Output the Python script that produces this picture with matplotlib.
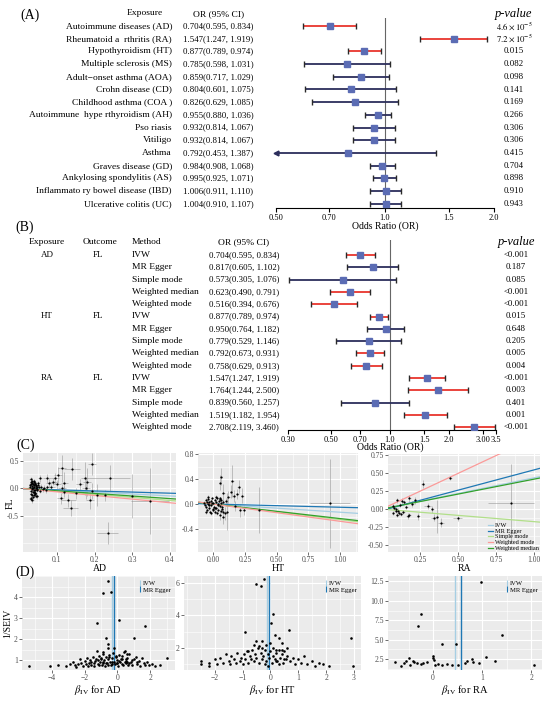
import numpy as np
import matplotlib.pyplot as plt
from matplotlib.lines import Line2D
from matplotlib.ticker import AutoMinorLocator, NullLocator, FixedLocator

plt.rcParams["font.family"] = ["Liberation Serif", "DejaVu Serif"]
plt.rcParams["mathtext.fontset"] = "stix"

# ---------------- panel A ----------------
a_names = ["Autoimmune diseases (AD)", "Rheumatoid a  rthritis (RA)", "Hypothyroidism (HT)",
           "Multiple sclerosis (MS)", "Adult\u2212onset asthma (AOA)", "Crohn disease (CD)",
           "Childhood asthma (COA )", "Autoimmune  hype rthyroidism (AH)", "Pso riasis",
           "Vitiligo", "Asthma", "Graves disease (GD)", "Ankylosing spondylitis (AS)",
           "Inflammato ry bowel disease (IBD)", "Ulcerative colitis (UC)"]
a_or = [0.704, 1.547, 0.877, 0.785, 0.859, 0.804, 0.826, 0.955, 0.932, 0.932, 0.792, 0.984, 0.995, 1.006, 1.004]
a_lo = [0.595, 1.247, 0.789, 0.598, 0.717, 0.601, 0.629, 0.880, 0.814, 0.814, 0.453, 0.908, 0.925, 0.911, 0.910]
a_hi = [0.834, 1.919, 0.974, 1.031, 1.029, 1.075, 1.085, 1.036, 1.067, 1.067, 1.387, 1.068, 1.071, 1.110, 1.107]
a_pnum = [4.6e-5, 7.2e-5, 0.015, 0.082, 0.098, 0.141, 0.169, 0.266, 0.306, 0.306, 0.415, 0.704, 0.898, 0.910, 0.943]
a_ptxt = [r"$4.6\times10^{-5}$", r"$7.2\times10^{-5}$", "0.015", "0.082", "0.098", "0.141", "0.169",
          "0.266", "0.306", "0.306", "0.415", "0.704", "0.898", "0.910", "0.943"]
a_ticks = [0.5, 0.7, 1.0, 1.5, 2.0]
a_ticklabels = ["0.50", "0.70", "1.0", "1.5", "2.0"]

# ---------------- panel B ----------------
b_exposures = ["AD", "HT", "RA"]
b_methods = ["IVW", "MR Egger", "Simple mode", "Weighted median", "Weighted mode"]
b_or = [0.704, 0.817, 0.573, 0.623, 0.516, 0.877, 0.950, 0.779, 0.792, 0.758, 1.547, 1.764, 0.839, 1.519, 2.708]
b_lo = [0.595, 0.605, 0.305, 0.490, 0.394, 0.789, 0.764, 0.529, 0.673, 0.629, 1.247, 1.244, 0.560, 1.182, 2.119]
b_hi = [0.834, 1.102, 1.076, 0.791, 0.676, 0.974, 1.182, 1.146, 0.931, 0.913, 1.919, 2.500, 1.257, 1.954, 3.460]
b_ptxt = ["<0.001", "0.187", "0.085", "<0.001", "<0.001", "0.015", "0.648", "0.205", "0.005", "0.004",
          "<0.001", "0.003", "0.401", "0.001", "<0.001"]
b_ticks = [0.3, 0.5, 0.7, 1.0, 1.5, 2.0, 3.0, 3.5]
b_ticklabels = ["0.30", "0.50", "0.70", "1.0", "1.5", "2.0", "3.00", "3.5"]

# ---------------- panel C (SNP effects) ----------------
c1_bx = [0.028, 0.030, 0.031, 0.032, 0.033, 0.034, 0.035, 0.036, 0.037, 0.038, 0.039, 0.040, 0.041, 0.042,
         0.043, 0.044, 0.045, 0.046, 0.047, 0.048, 0.030, 0.032, 0.034, 0.036, 0.038, 0.040, 0.042, 0.044,
         0.046, 0.050, 0.029, 0.031, 0.033, 0.035, 0.037, 0.039, 0.041, 0.043, 0.052, 0.055, 0.058, 0.062,
         0.066, 0.070, 0.074, 0.030, 0.034, 0.038, 0.045, 0.050,
         0.24, 0.30, 0.347, 0.235, 0.193, 0.14, 0.113, 0.206, 0.137, 0.13, 0.11, 0.103, 0.095, 0.175, 0.18,
         0.177, 0.188, 0.15, 0.08, 0.074, 0.055, 0.12, 0.16, 0.193, 0.227, 0.113, 0.10, 0.09, 0.085, 0.12]
c1_by = [0.02, -0.05, 0.08, -0.10, 0.04, -0.02, 0.10, -0.07, 0.01, 0.06, -0.12, 0.03, -0.04, 0.09,
         -0.08, 0.00, 0.05, -0.15, 0.02, -0.03, -0.18, 0.12, -0.13, 0.07, -0.06, 0.11, -0.09, 0.04,
         -0.01, 0.06, 0.05, -0.20, 0.00, 0.14, -0.16, -0.03, 0.08, -0.11, 0.02, -0.05, 0.03, -0.02,
         0.01, -0.04, 0.02, 0.16, -0.22, 0.13, -0.14, 0.09,
         0.18, -0.15, -0.24, -0.82, 0.44, 0.35, 0.36, -0.13, -0.36, -0.22, -0.18, 0.24, 0.18, 0.18, 0.11,
         0.00, -0.22, -0.09, 0.09, 0.18, 0.18, 0.09, 0.07, -0.05, -0.13, 0.00, 0.07, 0.12, 0.02, -0.06]
c1_sx = [0.004] * 50 + [0.055, 0.01, 0.05, 0.028, 0.01, 0.02, 0.01, 0.01, 0.02, 0.02, 0.01, 0.01, 0.01, 0.01,
                        0.01, 0.01, 0.01, 0.01, 0.01, 0.01, 0.005, 0.01, 0.01, 0.01, 0.01, 0.01, 0.01, 0.01,
                        0.01, 0.01]
c1_sy = [0.04] * 50 + [0.25, 0.40, 0.60, 0.20, 0.20, 0.20, 0.25, 0.20, 0.15, 0.12, 0.10, 0.15, 0.10, 0.30,
                       0.25, 0.20, 0.15, 0.10, 0.08, 0.08, 0.06, 0.20, 0.10, 0.15, 0.10, 0.08, 0.08, 0.06,
                       0.06, 0.10]

c2_bx = [-0.07, -0.06, -0.055, -0.05, -0.045, -0.04, -0.035, -0.03, -0.025, -0.02, -0.015, -0.01, -0.005,
         0.0, 0.005, 0.01, 0.015, 0.02, 0.025, 0.03, 0.035, 0.04, 0.045, 0.05, 0.055, 0.06, 0.065, 0.07,
         -0.06, -0.04, -0.02, 0.0, 0.02, 0.04, 0.06, -0.05, -0.03, -0.01, 0.01, 0.03, 0.05, 0.07, 0.075,
         -0.065, 0.08,
         0.06, 0.055, 0.08, 0.15, 0.12, 0.16, 0.19, 0.23, 0.17, 0.21, 0.095, 0.055, 0.08, 0.11, 0.24, 0.36,
         0.92, 0.14, 0.10, 0.20]
c2_by = [0.02, -0.05, 0.06, -0.1, 0.0, 0.08, -0.07, 0.03, -0.12, 0.05, -0.02, 0.09, -0.08, 0.01, -0.04,
         0.07, -0.13, 0.03, -0.06, 0.1, -0.01, -0.09, 0.05, -0.03, 0.08, -0.11, 0.02, -0.05, -0.13, 0.11,
         -0.15, -0.1, 0.12, 0.0, 0.06, 0.04, -0.02, 0.02, -0.07, -0.14, 0.09, -0.08, 0.03, -0.02, -0.12,
         0.44, 0.34, 0.18, 0.37, 0.11, 0.13, 0.16, 0.13, -0.03, -0.10, -0.15, -0.18, -0.20, -0.12, -0.10,
         -0.10, 0.01, 0.20, 0.05, 0.28]
c2_sx = [0.005] * 45 + [0.01] * 16 + [0.16, 0.01, 0.01, 0.01]
c2_sy = [0.03] * 45 + [0.14, 0.12, 0.15, 0.25, 0.10, 0.10, 0.08, 0.12, 0.08, 0.10, 0.10, 0.08, 0.12,
                       0.30, 0.08, 0.37, 0.72, 0.10, 0.05, 0.10]

c3_bx = [0.27, 0.45, 0.18, 0.13, 0.145, 0.10, 0.16, 0.30, 0.33, 0.09, 0.11, 0.125, 0.14, 0.17, 0.18,
         0.24, 0.08, 0.095, 0.105, 0.10, 0.07, 0.12, 0.34, 0.36, 0.39, 0.50, 0.85, 0.20, 0.075, 0.22]
c3_by = [0.35, 0.43, 0.15, 0.11, 0.10, 0.12, 0.03, 0.04, 0.0, -0.03, -0.05, -0.07, -0.04, -0.10, -0.08,
         -0.10, 0.02, 0.0, -0.02, -0.08, 0.05, 0.06, -0.12, -0.11, -0.19, -0.13, 0.08, 0.07, -0.05, 0.12]
c3_sx = [0.01, 0.01, 0.01, 0.01, 0.01, 0.01, 0.01, 0.02, 0.01, 0.01, 0.01, 0.01, 0.01, 0.01, 0.01,
         0.01, 0.01, 0.005, 0.005, 0.01, 0.005, 0.01, 0.02, 0.01, 0.02, 0.03, 0.15, 0.01, 0.005, 0.01]
c3_sy = [0.05, 0.03, 0.05, 0.04, 0.03, 0.04, 0.03, 0.04, 0.05, 0.03, 0.03, 0.03, 0.03, 0.04, 0.03,
         0.05, 0.03, 0.02, 0.03, 0.03, 0.03, 0.03, 0.05, 0.23, 0.06, 0.04, 0.55, 0.04, 0.03, 0.05]

egger_intercepts = [-0.01, 0.0, -0.02]

# ---------------- panel D (funnel) ----------------
d1_b = [-0.6, -0.9, -0.36, 0.12, -1.27, 1.7, 1.03, -0.67, -0.6, -0.55, -0.18, -1.27, -0.9, 0.48, 0.6, 3.0,
        -5.4, -4.1,
        -3.6, -3.1, -2.9, -2.7, -2.6, -2.5, -2.3, -2.2, -2.1, -2.0, -1.9, -1.85, -1.8, -1.7, -1.65, -1.6,
        -1.5, -1.45, -1.4, -1.35, -1.3, -1.2, -1.15, -1.1, -1.05, -1.0, -0.95, -0.9, -0.85, -0.8, -0.75,
        -0.7, -0.65, -0.6, -0.55, -0.5, -0.45, -0.4, -0.35, -0.3, -0.25, -0.2, -0.15, -0.1, -0.05, 0.0,
        0.05, 0.1, 0.15, 0.2, 0.25, 0.3, 0.35, 0.4, 0.45, 0.5, 0.55, 0.6, 0.65, 0.7, 0.8, 0.9, 1.0, 1.1,
        1.2, 1.3, 1.4, 1.5, 1.6, 1.7, 1.8, 1.9, 2.1, 2.3, 2.6,
        -1.6, -1.2, -0.9, -0.7, -0.5, -0.3, -0.1, 0.1, 0.3, 0.5, 0.7, 0.9, 1.2, -2.4, -1.0, 0.0, 0.6]
d1_y = [4.74, 4.2, 4.26, 2.94, 2.76, 2.63, 2.06, 2.06, 1.8, 1.6, 1.6, 1.45, 1.4, 1.45, 1.3, 1.13, 0.74, 0.75,
        0.78, 0.72, 0.85, 0.95, 0.80, 0.70, 1.05, 0.88, 0.76, 0.98,
        0.82, 1.10, 0.74, 0.90, 1.02, 0.79, 1.15, 0.86, 0.73, 0.97,
        1.08, 0.84, 1.20, 0.77, 0.93, 1.12, 0.81, 1.30, 0.89, 1.00,
        0.75, 1.18, 0.87, 1.05, 0.80, 1.25, 0.92, 0.78, 1.10, 0.85,
        1.35, 0.95, 0.82, 1.15, 0.88, 1.02, 0.76, 1.28, 0.91, 1.08,
        0.83, 1.20, 0.79, 1.40, 0.94, 1.05, 0.86, 1.12, 0.78, 1.30,
        0.92, 0.80, 1.05, 1.18, 0.84, 0.97, 0.75, 1.10, 0.88, 0.80,
        0.95, 0.78, 0.85, 0.72, 0.80,
        0.92, 1.00, 0.95, 0.88, 1.15, 0.93, 1.22, 0.99, 1.08, 0.96, 0.90, 1.03, 0.95, 0.83, 1.05, 0.90, 0.93]

d2_b = [-0.22, -0.5, -0.32, -0.9, 0.68, 2.9, 2.95, 0.1, 0.03, -0.5, -0.15, 0.32, 0.4, 0.6, 0.15, -0.3, 0.2,
        -2.5, -2.5, -2.2, -2.2, -2.0, -1.9, -1.8, -1.7, -1.6, -1.5,
        -1.45, -1.4, -1.3, -1.25, -1.2, -1.1, -1.05, -1.0, -0.95, -0.9,
        -0.85, -0.8, -0.75, -0.7, -0.65, -0.6, -0.55, -0.5, -0.45, -0.4,
        -0.35, -0.3, -0.25, -0.2, -0.15, -0.1, -0.05, 0.0, 0.05, 0.1,
        0.15, 0.2, 0.25, 0.3, 0.35, 0.4, 0.45, 0.5, 0.55, 0.6,
        0.7, 0.8, 0.9, 1.0, 1.1, 1.2, 1.3, 1.5, 1.6, 1.75,
        1.9, 2.1, -0.6, -0.4, -0.2, 0.0, 0.2, 0.4, -0.8, -0.1,
        0.1, 0.3, -0.3, 0.5]
d2_y = [6.2, 5.9, 5.8, 3.0, 3.1, 2.6, 0.9, 4.1, 3.5, 2.4, 2.2, 2.6, 2.3, 2.0, 2.8, 2.0, 1.9,
        1.0, 1.2, 1.1, 0.9, 1.3, 1.0, 1.4, 1.1, 1.6, 1.2,
        1.0, 1.5, 1.3, 1.1, 1.7, 1.2, 1.4, 1.0, 1.6, 1.3,
        1.8, 1.1, 1.5, 1.3, 1.9, 1.2, 1.6, 1.4, 2.0, 1.1,
        1.7, 1.3, 1.5, 1.9, 1.2, 1.6, 1.4, 1.8, 1.1, 1.5,
        1.3, 1.7, 1.2, 1.9, 1.4, 1.6, 1.1, 1.8, 1.3, 1.5,
        1.2, 1.4, 1.0, 1.3, 1.1, 1.5, 1.0, 1.2, 0.9, 1.1,
        1.0, 0.9, 2.2, 2.1, 1.0, 2.3, 1.2, 1.9, 1.8, 0.9,
        2.0, 1.0, 2.4, 1.3]

d3_b = [0.98, -0.24, -0.3, 1.4, 0.18, 0.47, -0.78, -0.6, -0.55, -0.5, -0.47, -0.42, -0.38, -0.32, -0.25,
        -0.2, -0.12, 0.0, 0.02, 0.04, 0.1, 0.18, 0.28, 0.38, 0.65, 0.7, 0.8, 0.82, 0.94, 1.08, 1.27, 2.05,
        -0.65, 0.0, 0.5]
d3_y = [12.4, 8.3, 6.7, 5.6, 4.5, 4.5, 2.1, 2.0, 2.3, 2.6, 1.7, 2.2, 2.1, 2.0, 1.9, 2.0, 2.1, 2.9, 2.4, 1.7,
        1.9, 1.8, 1.9, 1.8, 2.0, 2.2, 2.5, 2.1, 2.0, 2.8, 2.3, 1.8, 1.6, 2.6, 1.8]

RED = "#e8352d"
NAVY = "#2c2e5c"
SQ = "#5b6cb4"
CAP = "#2a2a2a"
METHOD_COLORS = {"IVW": "#a6cee3", "MR Egger": "#1f78b4", "Simple mode": "#b2df8a",
                 "Weighted median": "#33a02c", "Weighted mode": "#fb9a99"}
W, H = 550, 701


def fx(x):
    return x / W


def fy(y):
    return 1 - y / H


def box(x0, y0, x1, y1):
    return [x0 / W, 1 - y1 / H, (x1 - x0) / W, (y1 - y0) / H]


def forest(ax, orv, lo, hi, pnum, xmin, xmax, ticks, labels, ytop, ybot):
    for i in range(len(orv)):
        r = -i
        c = RED if pnum[i] < 0.05 else NAVY
        left = max(lo[i], xmin)
        ax.plot([left, hi[i]], [r, r], color=c, lw=1.3, solid_capstyle="butt")
        if lo[i] < xmin:
            ax.plot(xmin, r, marker="<", color=NAVY, ms=3.5, clip_on=False)
        else:
            ax.plot(lo[i], r, marker="|", color=CAP, ms=4, mew=1.0)
        ax.plot(hi[i], r, marker="|", color=CAP, ms=4, mew=1.0)
        ax.plot(orv[i], r, marker="s", ms=4.5, mfc=SQ, mec=SQ, zorder=3)
    ax.axvline(1.0, color="#666666", lw=0.8, zorder=0)
    ax.set_xscale("log")
    ax.set_xlim(xmin, xmax)
    ax.set_ylim(ybot, ytop)
    ax.xaxis.set_major_locator(FixedLocator(ticks))
    ax.xaxis.set_minor_locator(NullLocator())
    ax.set_xticklabels(labels)
    ax.tick_params(axis="x", labelsize=6, length=3, width=0.8, pad=1)
    ax.set_yticks([])
    for s in ["left", "top", "right"]:
        ax.spines[s].set_visible(False)
    ax.spines["bottom"].set_linewidth(0.8)
    ax.set_facecolor("none")


def gg_style(ax):
    ax.set_facecolor("#ebebeb")
    for s in ax.spines.values():
        s.set_visible(False)
    ax.grid(True, which="major", color="white", lw=0.8)
    ax.grid(True, which="minor", color="white", lw=0.4)
    ax.set_axisbelow(True)
    ax.tick_params(which="major", labelsize=5.5, labelcolor="#4d4d4d", color="#333333",
                   length=2, width=0.5, pad=1)
    ax.tick_params(which="minor", length=0)


fig = plt.figure(figsize=(5.5, 7.01), dpi=100)

# ===== Panel A =====
fig.text(fx(20), fy(15), "(A)", fontsize=10, va="center")
fig.text(fx(145), fy(13), "Exposure", fontsize=6.8, ha="center", va="center")
fig.text(fx(219), fy(14), "OR (95% CI)", fontsize=6.8, ha="center", va="center")
fig.text(fx(513), fy(14), "p-value", fontsize=9, style="italic", ha="center", va="center")
for i, name in enumerate(a_names):
    y = 26 + 12.7 * i
    fig.text(fx(172), fy(y), name, fontsize=6.8, ha="right", va="center")
    fig.text(fx(218), fy(y), f"{a_or[i]:.3f}({a_lo[i]:.3f}, {a_hi[i]:.3f})",
             fontsize=6.3, ha="center", va="center")
    fig.text(fx(514), fy(y), a_ptxt[i], fontsize=6.3, ha="center", va="center")

axA = fig.add_axes(box(276, 18, 494, 208))
forest(axA, a_or, a_lo, a_hi, a_pnum, 0.5, 2.0, a_ticks, a_ticklabels,
       8 / 12.7, -(208 - 26) / 12.7)
fig.text(fx(385), fy(226), "Odds Ratio (OR)", fontsize=7, ha="center", va="center")

# ===== Panel B =====
b_pnum = [0.0009 if p.startswith("<") else float(p) for p in b_ptxt]
fig.text(fx(15), fy(227), "(B)", fontsize=10, va="center")
fig.text(fx(47), fy(242), "Exposure", fontsize=6.8, ha="center", va="center")
fig.text(fx(100), fy(242), "Outcome", fontsize=6.8, ha="center", va="center")
fig.text(fx(132), fy(242), "Method", fontsize=6.8, ha="left", va="center")
fig.text(fx(244), fy(242), "OR (95% CI)", fontsize=6.8, ha="center", va="center")
fig.text(fx(516), fy(242), "p-value", fontsize=9, style="italic", ha="center", va="center")
for i in range(len(b_or)):
    y = 255 + 12.3 * i
    if i % 5 == 0:
        fig.text(fx(47), fy(y), b_exposures[i // 5], fontsize=6.5, ha="center", va="center")
        fig.text(fx(98), fy(y), "FL", fontsize=6.5, ha="center", va="center")
    fig.text(fx(132), fy(y), b_methods[i % 5], fontsize=6.8, ha="left", va="center")
    fig.text(fx(244), fy(y), f"{b_or[i]:.3f}({b_lo[i]:.3f}, {b_hi[i]:.3f})",
             fontsize=6.3, ha="center", va="center")
    fig.text(fx(516), fy(y), b_ptxt[i], fontsize=6.3, ha="center", va="center")

axB = fig.add_axes(box(288, 240, 496, 430))
forest(axB, b_or, b_lo, b_hi, b_pnum, 0.3, 3.5, b_ticks, b_ticklabels,
       15 / 12.3, -(430 - 255) / 12.3)
fig.text(fx(390), fy(447), "Odds Ratio (OR)", fontsize=7, ha="center", va="center")

# ===== Panel C =====
fig.text(fx(16), fy(445), "(C)", fontsize=10, va="center")
fig.text(fx(10), fy(503), "FL", fontsize=7, rotation=90, ha="center", va="center")
c_data = [(c1_bx, c1_by, c1_sx, c1_sy), (c2_bx, c2_by, c2_sx, c2_sy), (c3_bx, c3_by, c3_sx, c3_sy)]
c_boxes = [box(23, 453, 176, 552), box(198, 453, 358, 552), box(388, 454, 540, 552)]
c_xlims = [(0.01, 0.416), (-0.12, 1.14), (0.04, 1.04)]
c_ylims = [(-1.16, 0.64), (-0.77, 0.82), (-0.60, 0.77)]
c_xticks = [[0.1, 0.2, 0.3, 0.4], [0.0, 0.25, 0.5, 0.75, 1.0], [0.25, 0.5, 0.75, 1.0]]
c_xtl = [["0.1", "0.2", "0.3", "0.4"], ["0.00", "0.25", "0.50", "0.75", "1.00"],
         ["0.25", "0.50", "0.75", "1.00"]]
c_yticks = [[-0.5, 0.0, 0.5], [-0.4, 0.0, 0.4, 0.8], [-0.5, -0.25, 0.0, 0.25, 0.5, 0.75]]
c_ytl = [["-0.5", "0.0", "0.5"], ["-0.4", "0.0", "0.4", "0.8"],
         ["-0.50", "-0.25", "0.00", "0.25", "0.50", "0.75"]]
line_order = ["IVW", "MR Egger", "Simple mode", "Weighted median", "Weighted mode"]

for k in range(3):
    ax = fig.add_axes(c_boxes[k])
    gg_style(ax)
    bx, by, sx, sy = [np.array(v) for v in c_data[k]]
    ax.errorbar(bx, by, xerr=sx, yerr=sy, fmt="none", ecolor="#8c8c8c", elinewidth=0.5, alpha=0.7)
    ax.scatter(bx, by, s=2.5, color="black", zorder=3, lw=0)
    xs = np.array(c_xlims[k])
    for j, m in enumerate(line_order):
        beta = np.log(b_or[k * 5 + j])
        icpt = egger_intercepts[k] if m == "MR Egger" else 0.0
        ax.plot(xs, icpt + beta * xs, color=METHOD_COLORS[m], lw=0.9, zorder=2)
    ax.set_xlim(c_xlims[k])
    ax.set_ylim(c_ylims[k])
    ax.set_xticks(c_xticks[k])
    ax.set_xticklabels(c_xtl[k])
    ax.set_yticks(c_yticks[k])
    ax.set_yticklabels(c_ytl[k])
    ax.xaxis.set_minor_locator(AutoMinorLocator(2))
    ax.yaxis.set_minor_locator(AutoMinorLocator(2))
    ax.set_xlabel(b_exposures[k], fontsize=7, labelpad=0)
    if k == 2:
        leg_order = ["IVW", "MR Egger", "Simple mode", "Weighted mode", "Weighted median"]
        handles = [Line2D([], [], color=METHOD_COLORS[m], lw=0.9) for m in leg_order]
        ax.legend(handles, leg_order, loc="lower right", fontsize=4.5, frameon=False,
                  handlelength=0.8, handletextpad=0.3, labelspacing=0.05, borderaxespad=0.1,
                  borderpad=0.1)

# ===== Panel D =====
fig.text(fx(15), fy(572), "(D)", fontsize=10, va="center")
fig.text(fx(8), fy(623), "1/SEIV", fontsize=7, rotation=90, ha="center", va="center")
d_data = [(d1_b, d1_y), (d2_b, d2_y), (d3_b, d3_y)]
d_boxes = [box(22, 576, 175, 670), box(184, 576, 361, 670), box(388, 576, 542, 670)]
d_xcent = [98, 272, 465]
d_xlims = [(-5.8, 3.5), (-3.1, 3.25), (-0.92, 2.22)]
d_ylims = [(0.55, 5.0), (0.65, 6.4), (1.1, 13.2)]
d_xticks = [[-4, -2, 0, 2], [-2, -1, 0, 1, 2, 3], [0, 1, 2]]
d_yticks = [[1, 2, 3, 4], [2, 4, 6], [2.5, 5.0, 7.5, 10.0, 12.5]]
d_ytl = [["1", "2", "3", "4"], ["2", "4", "6"], ["2.5", "5.0", "7.5", "10.0", "12.5"]]

for k in range(3):
    ax = fig.add_axes(d_boxes[k])
    gg_style(ax)
    b, yv = d_data[k]
    ax.scatter(b, yv, s=3.5, color="black", zorder=3, lw=0)
    ax.axvline(np.log(b_or[k * 5]), color=METHOD_COLORS["IVW"], lw=1.0, zorder=2)
    ax.axvline(np.log(b_or[k * 5 + 1]), color=METHOD_COLORS["MR Egger"], lw=1.0, zorder=2)
    ax.set_xlim(d_xlims[k])
    ax.set_ylim(d_ylims[k])
    ax.set_xticks(d_xticks[k])
    ax.set_yticks(d_yticks[k])
    ax.set_yticklabels(d_ytl[k])
    ax.xaxis.set_minor_locator(AutoMinorLocator(2))
    ax.yaxis.set_minor_locator(AutoMinorLocator(2))
    fig.text(fx(d_xcent[k]), fy(690), r"$\beta_{\mathrm{IV}}$ for " + b_exposures[k],
             fontsize=7.5, ha="center", va="center")
    handles = [Line2D([], [], color=METHOD_COLORS[m], marker="|", ls="None", ms=4, mew=0.8)
               for m in ["IVW", "MR Egger"]]
    ax.legend(handles, ["IVW", "MR Egger"], loc="upper right", fontsize=4.8, frameon=False,
              handlelength=0.5, handletextpad=0.2, labelspacing=0.1, borderaxespad=0.3)

fig.savefig("out.png", dpi=100)
